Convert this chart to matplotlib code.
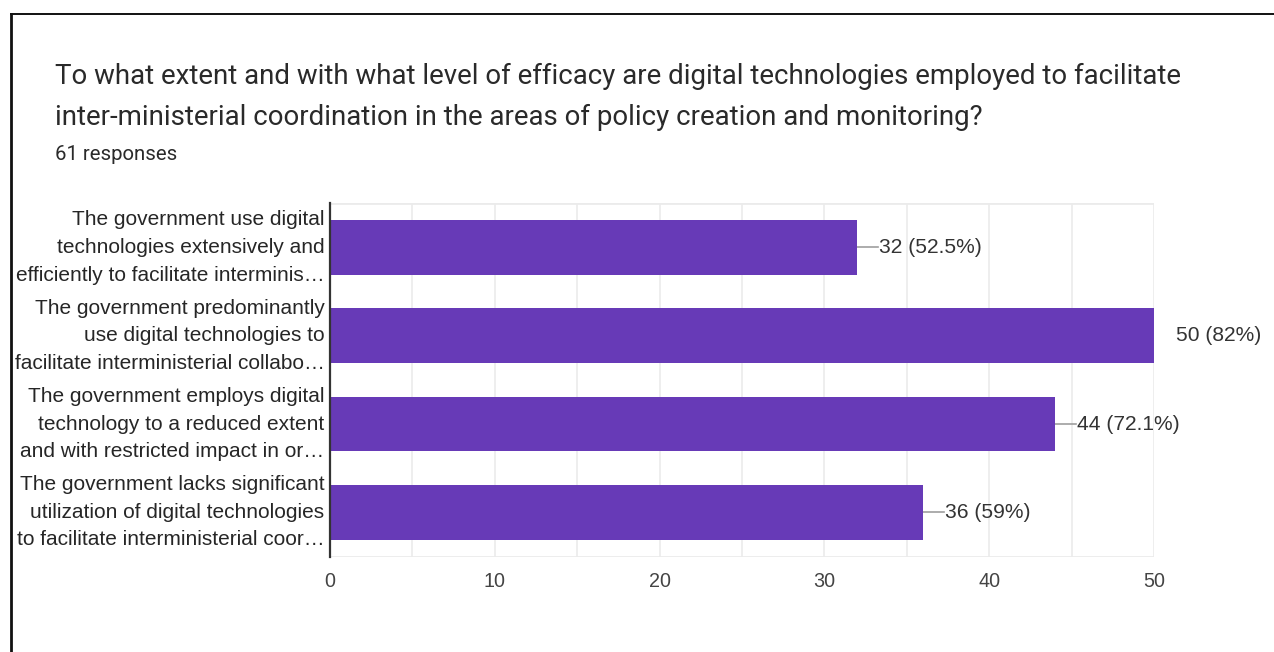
import matplotlib
matplotlib.use("Agg")
import matplotlib.pyplot as plt
from matplotlib.lines import Line2D

# survey answers, top to bottom
labels = [
    "The government use digital\ntechnologies extensively and\nefficiently to facilitate interminis\u2026",
    "The government predominantly\nuse digital technologies to\nfacilitate interministerial collabo\u2026",
    "The government employs digital\ntechnology to a reduced extent\nand with restricted impact in or\u2026",
    "The government lacks significant\nutilization of digital technologies\nto facilitate interministerial coor\u2026",
]
counts = [32, 50, 44, 36]
percents = ["52.5%", "82%", "72.1%", "59%"]
xticks = [0, 10, 20, 30, 40, 50]
gridticks = [0, 5, 10, 15, 20, 25, 30, 35, 40, 45, 50]
title = ("To what extent and with what level of efficacy are digital technologies employed to facilitate\n"
         "inter-ministerial coordination in the areas of policy creation and monitoring?")
subtitle = "61 responses"

purple = "#673ab7"
text_dark = "#2a2a2a"
label_col = "#262626"
grid_col = "#ebebeb"

fig = plt.figure(figsize=(12.74, 6.52), dpi=100)
fig.patch.set_facecolor("white")

# thin black frame on top and left edge
fig.add_artist(Line2D([10.5 / 1274, 1.0], [1 - 14 / 652] * 2, color="#111111", lw=1.4))
fig.add_artist(Line2D([11 / 1274] * 2, [0, 1 - 14 / 652], color="#111111", lw=2.0))

fig.text(55 / 1274, 1 - 97 / 652, title, fontsize=19.9, family="Roboto",
         color=text_dark, ha="left", va="center", linespacing=1.64)
fig.text(55 / 1274, 1 - 154.5 / 652, subtitle, fontsize=14.7, family="Roboto",
         color=text_dark, ha="left", va="center")

ax = fig.add_axes([330 / 1274, 1 - 556.6 / 652, 824 / 1274, 353.3 / 652])
ypos = list(range(len(counts)))
ax.barh(ypos, counts, height=0.62, color=purple, zorder=3)
ax.set_xlim(0, 50)
ax.set_ylim(len(counts) - 0.5, -0.5)

for g in gridticks:
    ax.axvline(g, color=grid_col, lw=1.2, zorder=1)
ax.axhline(-0.5, color=grid_col, lw=2, zorder=1)
ax.axhline(len(counts) - 0.5, color=grid_col, lw=2, zorder=1)

for s in ["top", "right", "bottom"]:
    ax.spines[s].set_visible(False)
ax.spines["left"].set_color("#333333")
ax.spines["left"].set_linewidth(1.6)
ax.spines["left"].set_zorder(4)

ax.set_yticks(ypos)
ax.set_yticklabels(labels, family="Liberation Sans", fontsize=15,
                   color=label_col, linespacing=1.57)
for lbl in ax.get_yticklabels():
    lbl.set_va("center")
    lbl.set_y(lbl.get_position()[1])
ax.set_xticks(xticks)
ax.set_xticklabels([str(t) for t in xticks], family="Liberation Sans",
                   fontsize=14.2, color="#444444")
ax.tick_params(axis="both", length=0)
ax.tick_params(axis="y", pad=4)
ax.tick_params(axis="x", pad=11)

# value labels with a short leader line (clipped at the plot edge)
gap = 21 / (824 / 50)
for y, c, p in zip(ypos, counts, percents):
    ax.plot([c, c + gap], [y, y], color="#9e9e9e", lw=1.2, zorder=2, clip_on=True)
    ax.text(c + gap + 0.05, y, f"{c} ({p})", family="Liberation Sans",
            fontsize=15.1, color="#333333", va="center", ha="left", clip_on=False)

fig.savefig("out.png", dpi=100, facecolor="white")
